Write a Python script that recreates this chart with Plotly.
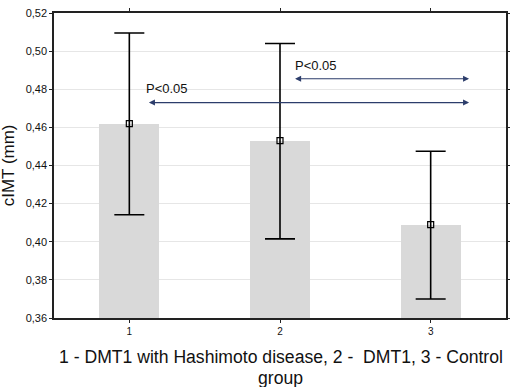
import plotly.graph_objects as go

categories = [1, 2, 3]
means = [0.462, 0.453, 0.409]
upper = [0.5095, 0.504, 0.4475]
lower = [0.4142, 0.4015, 0.370]
tick_vals = [0.36, 0.38, 0.40, 0.42, 0.44, 0.46, 0.48, 0.50, 0.52]
# comparisons: (x_start, x_end, y_level, label, text_x, text_y)
comp_x0 = [2.09, 1.12]
comp_x1 = [3.255, 3.255]
comp_y = [0.4855, 0.4730]
comp_label = ["P<0.05", "P<0.05"]
comp_text_x = [2.24, 1.25]
comp_text_y = [0.4925, 0.4803]
x_title_lines = ["1 - DMT1 with Hashimoto disease, 2 -  DMT1, 3 - Control", "group"]
y_title = "cIMT (mm)"

err_plus = [u - m for u, m in zip(upper, means)]
err_minus = [m - l for m, l in zip(means, lower)]

fig = go.Figure()
fig.add_trace(go.Bar(
    x=categories, y=[m - 0.36 for m in means], base=0.36, width=0.4,
    marker=dict(color="#d9d9d9", line=dict(width=0)),
    hoverinfo="skip", showlegend=False,
))
fig.add_trace(go.Scatter(
    x=categories, y=means, mode="markers",
    marker=dict(symbol="square-open", size=6, color="black", line=dict(width=1.2)),
    error_y=dict(type="data", array=err_plus, arrayminus=err_minus,
                 color="black", thickness=1.6, width=15),
    showlegend=False,
))

font = "Liberation Sans, Arial, sans-serif"
annotations = []
for x0, x1, yv, lab, tx, ty in zip(comp_x0, comp_x1, comp_y, comp_label, comp_text_x, comp_text_y):
    annotations.append(dict(
        x=x1, y=yv, ax=x0, ay=yv, xref="x", yref="y", axref="x", ayref="y",
        showarrow=True, arrowhead=2, arrowside="end+start", arrowsize=1.1,
        arrowwidth=1.1, arrowcolor="#2c3d6b", text="",
    ))
    annotations.append(dict(
        x=tx, y=ty, xref="x", yref="y", text=lab, showarrow=False,
        xanchor="center", yanchor="middle",
        font=dict(family=font, size=13, color="#111111"),
    ))
for line, py in zip(x_title_lines, [-0.128, -0.197]):
    annotations.append(dict(
        x=0.502, y=py, xref="paper", yref="paper", text=line, showarrow=False,
        xanchor="center", yanchor="middle",
        font=dict(family=font, size=17.6, color="#111111"),
    ))
annotations.append(dict(
    x=-0.1, y=0.5, xref="paper", yref="paper", text=y_title, showarrow=False,
    xanchor="center", yanchor="middle", textangle=-90,
    font=dict(family=font, size=17, color="#111111"),
))

fig.update_layout(
    width=510, height=387,
    margin=dict(l=54, r=4, t=13, b=69, autoexpand=False),
    plot_bgcolor="white", paper_bgcolor="white",
    separators=",.",
    font=dict(family=font, color="#111111"),
    annotations=annotations,
    bargap=0,
)
fig.update_xaxes(
    range=[0.5, 3.5], tickvals=categories, ticktext=[str(c) for c in categories],
    tickfont=dict(size=10), ticks="outside", ticklen=3, tickcolor="#222",
    showline=True, linecolor="#222", linewidth=1.5, mirror="ticks",
    showgrid=False, zeroline=False, automargin=False,
)
fig.update_yaxes(
    range=[0.36, 0.52], tickvals=tick_vals, tickformat=".2f",
    tickfont=dict(size=11), ticks="outside", ticklen=3, tickcolor="#222",
    showline=True, linecolor="#222", linewidth=1.5, mirror="ticks",
    showgrid=True, gridcolor="#e6e6e6", gridwidth=1, zeroline=False, automargin=False,
)

fig.write_html("out.html", config={"displayModeBar": False},
               post_script="document.body.style.margin='0';document.body.style.overflow='hidden';")
